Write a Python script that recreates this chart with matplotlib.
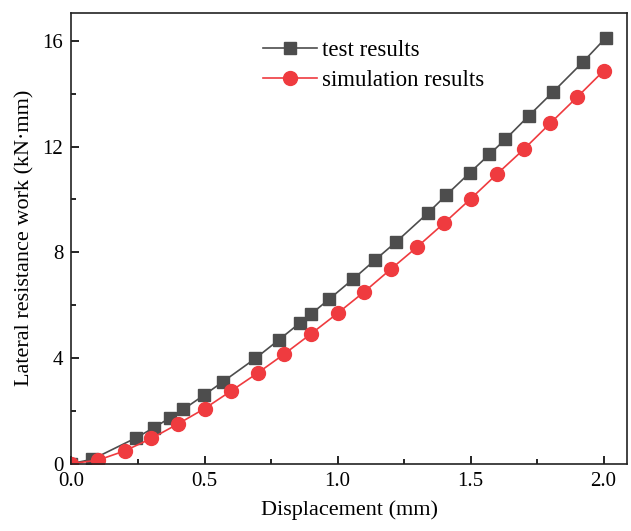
import matplotlib
matplotlib.use("Agg")
import matplotlib.pyplot as plt
from matplotlib.ticker import MultipleLocator

# Data
test_x = [0.0, 0.078, 0.242, 0.310, 0.370, 0.420, 0.498, 0.568, 0.691, 0.779,
          0.859, 0.899, 0.969, 1.059, 1.140, 1.220, 1.340, 1.408, 1.498, 1.571,
          1.631, 1.719, 1.809, 1.922, 2.009]
test_y = [0.0, 0.16, 0.97, 1.36, 1.73, 2.05, 2.59, 3.09, 3.98, 4.68,
          5.33, 5.65, 6.23, 6.99, 7.70, 8.39, 9.49, 10.16, 11.02, 11.71,
          12.28, 13.17, 14.06, 15.20, 16.13]

sim_x = [0.0, 0.1, 0.2, 0.3, 0.4, 0.5, 0.6, 0.7, 0.8, 0.9, 1.0,
         1.1, 1.2, 1.3, 1.4, 1.5, 1.6, 1.7, 1.8, 1.9, 2.0]
sim_y = [0.0, 0.13, 0.48, 0.95, 1.50, 2.08, 2.75, 3.43, 4.15, 4.91, 5.69,
         6.50, 7.36, 8.21, 9.10, 10.02, 10.97, 11.90, 12.89, 13.87, 14.87]

labels = ["test results", "simulation results"]

plt.rcParams['font.family'] = ['Liberation Serif', 'DejaVu Serif']

fig = plt.figure(figsize=(6.31, 5.31), dpi=100)
ax = fig.add_axes([0.1133, 0.127, 0.8804, 0.849])

ax.plot(test_x, test_y, color='#4d4d4d', marker='s', markersize=8.5,
        linewidth=1.2, label=labels[0])
ax.plot(sim_x, sim_y, color='#ef3b3f', marker='o', markersize=10,
        linewidth=1.2, label=labels[1])

ax.set_xlim(0, 2.088)
ax.set_ylim(0, 17.07)
ax.xaxis.set_major_locator(MultipleLocator(0.5))
ax.xaxis.set_minor_locator(MultipleLocator(0.25))
ax.yaxis.set_major_locator(MultipleLocator(4))
ax.yaxis.set_minor_locator(MultipleLocator(2))
ax.xaxis.set_major_formatter(matplotlib.ticker.FormatStrFormatter('%.1f'))
ax.tick_params(which='both', direction='in', top=False, right=False,
               labelsize=15, width=1.2)
ax.tick_params(which='major', length=6, pad=6)
ax.tick_params(which='minor', length=3.5)
for s in ax.spines.values():
    s.set_linewidth(1.2)
    s.set_color('#222222')

ax.set_xlabel("Displacement (mm)", fontsize=16, labelpad=7)
ax.set_ylabel("Lateral resistance work (kN\u00b7mm)", fontsize=16, labelpad=6)

ax.legend(loc='upper left', bbox_to_anchor=(0.345, 0.94), frameon=False,
          fontsize=16.5, handlelength=2.36, labelspacing=0.4,
          borderaxespad=0, borderpad=0, handletextpad=0.22)

fig.savefig("out.png", dpi=100)
